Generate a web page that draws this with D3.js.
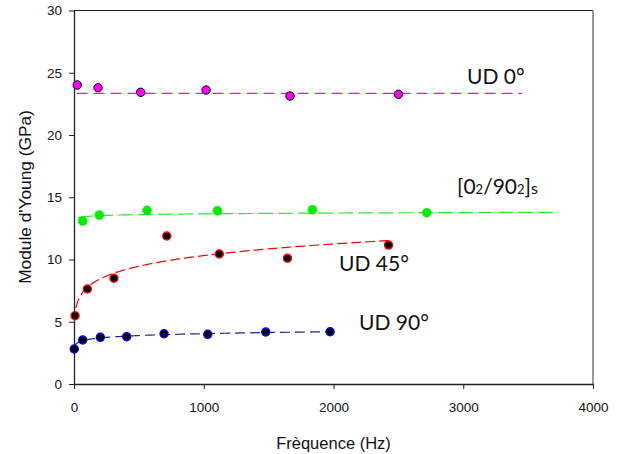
<!DOCTYPE html>
<html>
<head>
<meta charset="utf-8">
<script src="https://cdn.jsdelivr.net/npm/d3@7/dist/d3.min.js"></script>
<style>
  html, body { margin: 0; padding: 0; background: #fff; }
  svg { display: block; }
</style>
</head>
<body>
<svg id="chart" width="619" height="454"></svg>
<script>
// ---- Data ----
const xTicks = [0, 1000, 2000, 3000, 4000];
const yTicks = [0, 5, 10, 15, 20, 25, 30];

const seriesNames = ["UD 0°", "[0₂/90₂]s", "UD 45°", "UD 90°"];

const freqUD0 = [25, 185, 514, 1018, 1665, 2500];
const valUD0  = [24.02, 23.80, 23.43, 23.61, 23.13, 23.27];

const freqCross = [67, 195, 563, 1105, 1838, 2719];
const valCross  = [13.09, 13.57, 13.95, 13.92, 14.00, 13.76];

const freqUD45 = [8, 103, 308, 715, 1120, 1645, 2424];
const valUD45  = [5.49, 7.63, 8.49, 11.89, 10.44, 10.10, 11.16];

const freqUD90 = [2, 67, 203, 406, 694, 1031, 1478, 1974];
const valUD90  = [2.81, 3.53, 3.75, 3.80, 4.04, 3.99, 4.18, 4.20];

// Trend curves y = a * f^b (coefficients) and their extents
const fitA    = [23.35, 13.05, 4.35, 2.754];
const fitB    = [0, 0.0067, 0.125, 0.0556];
const fitFrom = [20, 33, 3, 2];
const fitTo   = [3452, 3734, 2424, 1974];

// ---- Chart ----
const svg = d3.select("#chart");
const x = d3.scaleLinear().domain([0, 4000]).range([74, 593]);
const y = d3.scaleLinear().domain([0, 30]).range([384, 10.5]);

const styles = [
  { line: "#ff00ff", dash: "11,6", fill: "#ff00ff", stroke: "#000", sw: 1, r: 4.2 },
  { line: "#22ee22", dash: "15,5", fill: "#00ee00", stroke: "#00ee00", sw: 0.5, r: 4.5 },
  { line: "#ff0000", dash: "10,4", fill: "#000", stroke: "#ff0000", sw: 1.4, r: 4 },
  { line: "#23238f", dash: "10,5", fill: "#000", stroke: "#0000ff", sw: 1.4, r: 4 }
];
const freqs = [freqUD0, freqCross, freqUD45, freqUD90];
const vals  = [valUD0, valCross, valUD45, valUD90];

// Frame
svg.append("line").attr("x1", x(0)).attr("x2", x(4000)).attr("y1", y(30)).attr("y2", y(30))
  .attr("stroke", "#222").attr("stroke-width", 1);
svg.append("line").attr("x1", x(4000)).attr("x2", x(4000)).attr("y1", y(30)).attr("y2", y(0))
  .attr("stroke", "#808080").attr("stroke-width", 1.6);

// Axes
const xAxis = d3.axisBottom(x).tickValues(xTicks).tickSize(5).tickSizeOuter(0).tickPadding(13)
  .tickFormat(d3.format("d"));
const yAxis = d3.axisLeft(y).tickValues(yTicks).tickSize(5).tickSizeOuter(0).tickPadding(7)
  .tickFormat(d3.format("d"));

const gx = svg.append("g").attr("transform", `translate(0,${y(0)})`).call(xAxis);
const gy = svg.append("g").attr("transform", `translate(${x(0)},0)`).call(yAxis);
[gx, gy].forEach(g => {
  g.select(".domain").attr("stroke", "#222").attr("stroke-width", 1.3);
  g.selectAll(".tick line").attr("stroke", "#222").attr("stroke-width", 1);
  g.selectAll(".tick text").attr("fill", "#111")
    .style("font-family", "'Liberation Sans', Arial, sans-serif").style("font-size", "13.5px");
});

// Axis titles
svg.append("text").attr("x", (x(0) + x(4000)) / 2).attr("y", 449)
  .attr("text-anchor", "middle").attr("fill", "#111")
  .style("font-family", "'Liberation Sans', Arial, sans-serif").style("font-size", "16.5px")
  .text("Frèquence (Hz)");
svg.append("text").attr("transform", "translate(31,197) rotate(-90)")
  .attr("text-anchor", "middle").attr("fill", "#111")
  .style("font-family", "'Liberation Sans', Arial, sans-serif").style("font-size", "17.3px")
  .text("Module d'Young (GPa)");

// Trend curves
const lineGen = d3.line().x(d => x(d[0])).y(d => y(d[1]));
for (let s = 0; s < 4; s++) {
  const n = 300;
  const pts = d3.range(n + 1).map(i => {
    const f = fitFrom[s] * Math.pow(fitTo[s] / fitFrom[s], i / n);
    return [f, fitA[s] * Math.pow(f, fitB[s])];
  });
  svg.append("path").datum(pts).attr("d", lineGen)
    .attr("fill", "none").attr("stroke", styles[s].line).attr("stroke-width", 1.2)
    .attr("stroke-dasharray", styles[s].dash);
}

// Points
for (let s = 0; s < 4; s++) {
  svg.append("g").selectAll("circle").data(d3.zip(freqs[s], vals[s])).join("circle")
    .attr("cx", d => x(d[0])).attr("cy", d => y(d[1])).attr("r", styles[s].r)
    .attr("fill", styles[s].fill).attr("stroke", styles[s].stroke).attr("stroke-width", styles[s].sw);
}

// Series labels
const labelFont = "Lato, 'Open Sans', sans-serif";
const lab = (tx, ty) => svg.append("text").attr("x", tx).attr("y", ty).attr("fill", "#111")
  .style("font-family", labelFont).style("font-size", "21px");

lab(467, 83.5).text(seriesNames[0]);
lab(339, 270.5).text(seriesNames[2]);
lab(359, 330).text(seriesNames[3]);
const cross = lab(457, 193.5);
cross.append("tspan").text("[0");
cross.append("tspan").style("font-size", "13px").text("2");
cross.append("tspan").text("/90");
cross.append("tspan").style("font-size", "13px").text("2");
cross.append("tspan").text("]");
cross.append("tspan").style("font-size", "16px").text("s");
</script>
</body>
</html>
